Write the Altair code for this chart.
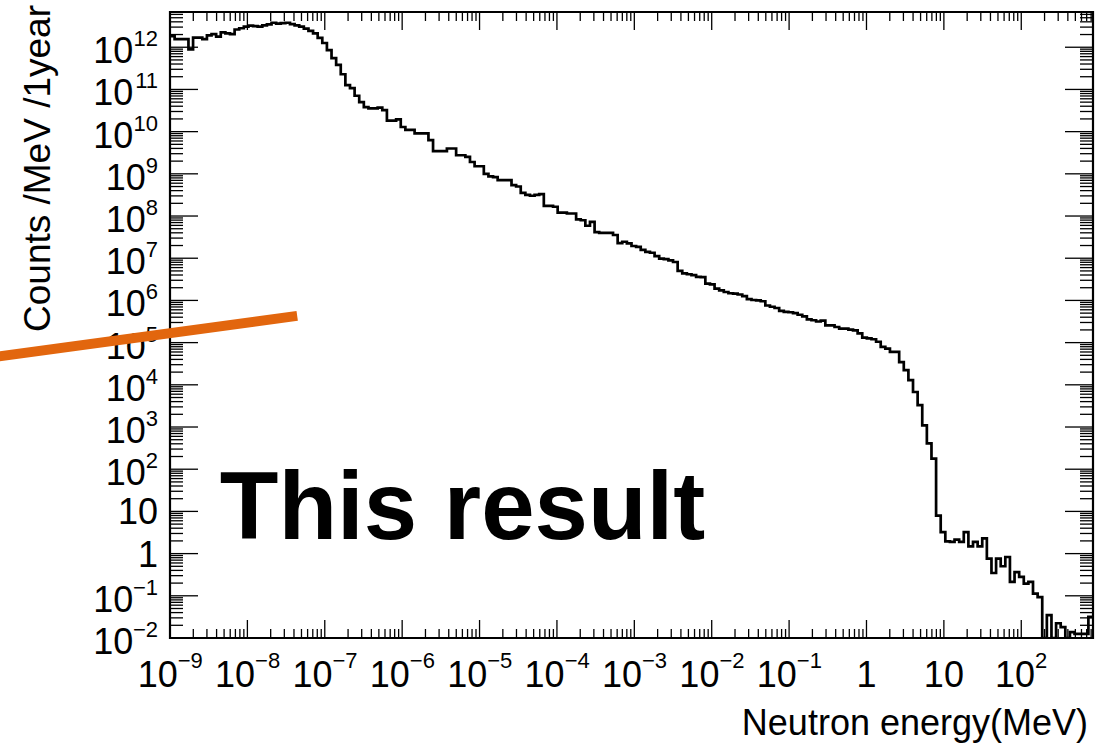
import altair as alt
import numpy as np
import pandas as pd

# Energy binning: 200 log-spaced bins from 1e-9 MeV up to ~845 MeV
LOG_E_LO = -9.0
LOG_E_HI = 2.927
N_BINS = 200

# log10(counts / MeV / year) per bin; None = empty bin
log_counts = [
    12.26, 12.19, 12.19, 12.19, 11.95, 12.23, 12.23, 12.19, 12.28, 12.31,
    12.25, 12.35, 12.33, 12.31, 12.42, 12.45, 12.49, 12.51, 12.50, 12.49,
    12.52, 12.54, 12.58, 12.56, 12.57, 12.58, 12.55, 12.52, 12.49, 12.44,
    12.39, 12.33, 12.22, 12.10, 11.93, 11.74, 11.58, 11.36, 11.10, 11.03,
    10.85, 10.70, 10.58, 10.55, 10.55, 10.57, 10.51, 10.26, 10.26, 10.29,
    10.11, 10.04, 10.04, 9.96, 9.96, 9.96, 9.80, 9.54, 9.54, 9.54,
    9.60, 9.60, 9.44, 9.44, 9.40, 9.28, 9.18, 9.18, 9.00, 8.94,
    8.92, 8.85, 8.85, 8.85, 8.73, 8.70, 8.55, 8.50, 8.48, 8.50,
    8.52, 8.24, 8.24, 8.22, 8.08, 8.08, 8.06, 8.06, 7.92, 7.90,
    7.77, 7.86, 7.62, 7.60, 7.60, 7.60, 7.55, 7.36, 7.39, 7.35,
    7.29, 7.27, 7.20, 7.15, 7.13, 7.05, 6.99, 6.98, 6.95, 6.91,
    6.70, 6.64, 6.62, 6.60, 6.56, 6.55, 6.40, 6.38, 6.28, 6.24,
    6.20, 6.17, 6.16, 6.14, 6.10, 6.03, 6.01, 6.00, 5.98, 5.88,
    5.85, 5.82, 5.75, 5.73, 5.72, 5.70, 5.66, 5.62, 5.55, 5.53,
    5.50, 5.52, 5.41, 5.41, 5.37, 5.33, 5.33, 5.31, 5.29, 5.22,
    5.12, 5.10, 5.08, 5.02, 4.90, 4.86, 4.78, 4.78, 4.54, 4.35,
    4.11, 3.83, 3.52, 3.04, 2.61, 2.25, 0.90, 0.51, 0.29, 0.28,
    0.33, 0.28, 0.51, 0.17, 0.28, 0.17, 0.36, -0.12, -0.46, -0.12,
    -0.30, -0.08, -0.67, -0.44, -0.55, -0.71, -0.67, -0.95, -1.03, None,
    -1.46, None, -1.65, -1.74, None, -1.86, -1.90, -1.90, -1.90, -1.50,
]

# Axis decades and minor-tick mantissas
x_decades = list(range(-9, 3))
y_decades = list(range(-2, 13))
minor_mantissas = [2, 3, 4, 5, 6, 7, 8, 9]

y_title = "Counts /MeV /1year"
x_title = "Neutron energy(MeV)"
note_text = "This result"

# Hand-drawn marker line (energy, counts) and the note's anchor
marker_energy = [5.5e-12, 4.4e-8]
marker_counts = [4.6e4, 4.3e5]
note_energy = [4.4e-9]
note_counts = [2.2]

W, H = 923, 626
E_MAX = 10 ** LOG_E_HI
C_MAX = 10 ** 12.835
FONT = "Liberation Sans"
MINUS = "\u2212"

xs = alt.Scale(type="log", domain=[1e-9, E_MAX], nice=False)
ys = alt.Scale(type="log", domain=[1e-2, C_MAX], nice=False)

# ---- histogram outline -------------------------------------------------
edges = np.logspace(LOG_E_LO, LOG_E_HI, N_BINS + 1)
counts = [0.0 if v is None else 10.0 ** v for v in log_counts]
hist_df = pd.DataFrame({
    "energy": list(edges[:-1]) + [edges[-1]],
    "counts": counts + [counts[-1]],
})
hist = (
    alt.Chart(hist_df)
    .transform_calculate(shown="max(datum.counts, 0.01)")
    .mark_line(interpolate="step-after", color="black", strokeWidth=2.7, clip=True)
    .encode(
        x=alt.X("energy:Q", scale=xs, axis=None),
        y=alt.Y("shown:Q", scale=ys, axis=None),
    )
)

# ---- ticks on all four sides, pointing inward ---------------------------
x_major = pd.DataFrame({"v": [10.0 ** k for k in x_decades]})
x_minor = pd.DataFrame({"v": [m * 10.0 ** k for k in x_decades for m in minor_mantissas
                              if m * 10.0 ** k <= E_MAX]})
y_major = pd.DataFrame({"v": [10.0 ** k for k in y_decades]})
y_minor = pd.DataFrame({"v": [m * 10.0 ** k for k in y_decades for m in minor_mantissas
                              if m * 10.0 ** k <= C_MAX]})


def xticks(df, y0, y1):
    return alt.Chart(df).mark_rule(color="black", strokeWidth=1.3).encode(
        x=alt.X("v:Q", scale=xs, axis=None), y=alt.value(y0), y2=alt.value(y1))


def yticks(df, x0, x1):
    return alt.Chart(df).mark_rule(color="black", strokeWidth=1.3).encode(
        y=alt.Y("v:Q", scale=ys, axis=None), x=alt.value(x0), x2=alt.value(x1))


ticks = [
    xticks(x_major, H, H - 18), xticks(x_major, 0, 18),
    xticks(x_minor, H, H - 9), xticks(x_minor, 0, 9),
    yticks(y_major, 0, 28), yticks(y_major, W - 28, W),
    yticks(y_minor, 0, 13), yticks(y_minor, W - 13, W),
]


# ---- tick labels: "10" with a raised exponent ---------------------------
def label_table(decades):
    rows = []
    for e in decades:
        if e in (0, 1):
            rows.append({"v": 10.0 ** e, "base": "1" if e == 0 else "10", "exp": "", "n": 0})
        else:
            s = str(e).replace("-", MINUS)
            rows.append({"v": 10.0 ** e, "base": "10", "exp": s, "n": len(s)})
    return pd.DataFrame(rows)


BASE_SIZE, EXP_SIZE = 36, 22
EXP_CHAR_W = 12.3
BASE_W = 40.0

ylab = label_table(y_decades)
xlab = label_table(x_decades)

labels = []
# y axis: right-aligned 12 px left of the frame
labels.append(
    alt.Chart(ylab[ylab.n == 0]).mark_text(font=FONT, fontSize=BASE_SIZE, align="right",
                                           baseline="alphabetic", dy=13)
    .encode(y=alt.Y("v:Q", scale=ys, axis=None), x=alt.value(-12), text="base:N"))
for n in (1, 2):
    sub = ylab[ylab.n == n]
    labels.append(
        alt.Chart(sub).mark_text(font=FONT, fontSize=BASE_SIZE, align="right",
                                 baseline="alphabetic", dy=16)
        .encode(y=alt.Y("v:Q", scale=ys, axis=None), x=alt.value(-12 - n * EXP_CHAR_W),
                text="base:N"))
labels.append(
    alt.Chart(ylab[ylab.n > 0]).mark_text(font=FONT, fontSize=EXP_SIZE, align="right",
                                          baseline="alphabetic", dy=-1)
    .encode(y=alt.Y("v:Q", scale=ys, axis=None), x=alt.value(-12), text="exp:N"))

# x axis: whole label centred under its tick
labels.append(
    alt.Chart(xlab[xlab.n == 0]).mark_text(font=FONT, fontSize=BASE_SIZE, align="center",
                                           baseline="alphabetic")
    .encode(x=alt.X("v:Q", scale=xs, axis=None), y=alt.value(H + 49), text="base:N"))
for n in (1, 2):
    sub = xlab[xlab.n == n]
    if sub.empty:
        continue
    join = BASE_W - (BASE_W + n * EXP_CHAR_W) / 2
    labels.append(
        alt.Chart(sub).mark_text(font=FONT, fontSize=BASE_SIZE, align="right",
                                 baseline="alphabetic", dx=join)
        .encode(x=alt.X("v:Q", scale=xs, axis=None), y=alt.value(H + 49), text="base:N"))
    labels.append(
        alt.Chart(sub).mark_text(font=FONT, fontSize=EXP_SIZE, align="left",
                                 baseline="alphabetic", dx=join)
        .encode(x=alt.X("v:Q", scale=xs, axis=None), y=alt.value(H + 30), text="exp:N"))

# ---- axis titles ---------------------------------------------------------
titles = [
    alt.Chart(pd.DataFrame({"t": [x_title]})).mark_text(
        font=FONT, fontSize=36, align="right", baseline="alphabetic")
    .encode(text="t:N", x=alt.value(W - 5), y=alt.value(H + 97)),
    alt.Chart(pd.DataFrame({"t": [y_title]})).mark_text(
        font=FONT, fontSize=37, align="left", baseline="alphabetic", angle=270)
    .encode(text="t:N", x=alt.value(-120), y=alt.value(320)),
]

# ---- annotations ---------------------------------------------------------
note = alt.Chart(pd.DataFrame({"energy": note_energy, "counts": note_counts,
                               "label": [note_text]})).mark_text(
    font=FONT, fontSize=96, fontWeight="bold", align="left", baseline="alphabetic"
).encode(x=alt.X("energy:Q", scale=xs, axis=None),
         y=alt.Y("counts:Q", scale=ys, axis=None), text="label:N")

marker = alt.Chart(pd.DataFrame({"energy": marker_energy, "counts": marker_counts})).mark_line(
    color="#E2660E", strokeWidth=10, strokeCap="butt", clip=False
).encode(x=alt.X("energy:Q", scale=xs, axis=None),
         y=alt.Y("counts:Q", scale=ys, axis=None))

chart = (
    alt.layer(hist, *ticks, *labels, *titles, note, marker)
    .properties(
        width=W, height=H,
        autosize=alt.AutoSizeParams(type="none"),
        padding={"left": 170, "top": 12, "right": 25, "bottom": 109},
        background="white",
    )
    .configure_view(stroke="black", strokeWidth=2.2)
)

chart.save("out.html", embed_options={"renderer": "svg", "actions": False})
